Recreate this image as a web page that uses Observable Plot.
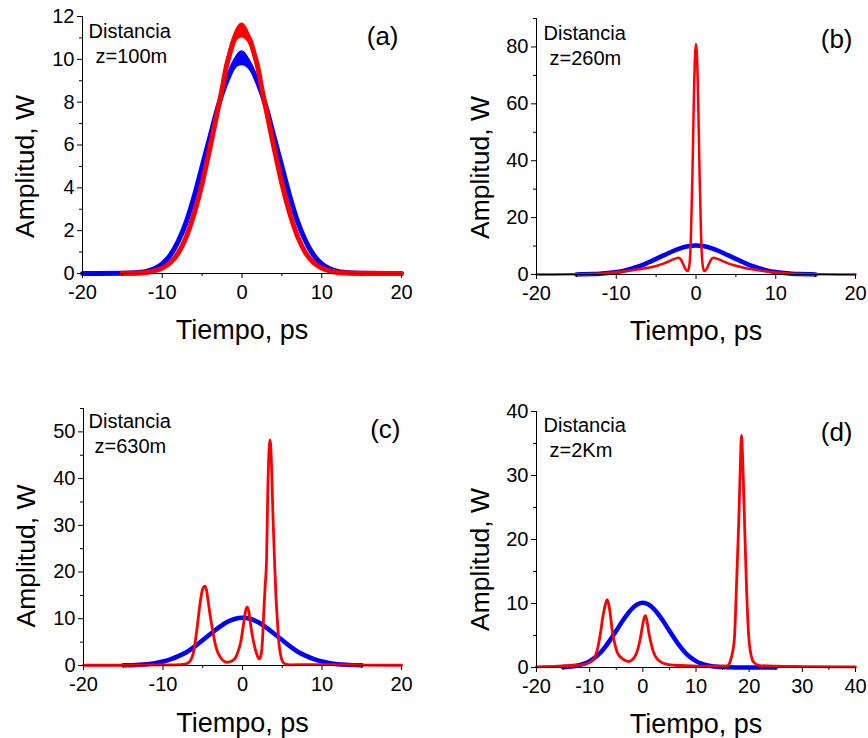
<!DOCTYPE html>
<html><head><meta charset="utf-8">
<script src="https://cdn.jsdelivr.net/npm/d3@7"></script>
<script src="https://cdn.jsdelivr.net/npm/@observablehq/plot@0.6"></script>
<style>
body{margin:0;background:#fff;}
#wrap{position:relative;width:868px;height:738px;overflow:hidden;background:#fff;font-family:"Liberation Sans",Arial,sans-serif;}
#wrap svg{position:absolute;}
</style></head><body><div id="wrap"></div>
<script>
// ---------- Panel (a): z = 100 m ----------
const tA_blue = [-20,-15,-13,-12,-11,-10,-9,-8,-7,-6,-5,-4,-3,-2,-1,0,1,2,3,4,5,6,7,8,9,10,11,12,13,15,20];
const vA_blue = [0,0.01,0.05,0.1,0.22,0.45,0.85,1.5,2.4,3.6,5.0,6.4,7.8,8.9,9.7,10.0,9.7,8.9,7.8,6.4,5.0,3.6,2.4,1.5,0.85,0.45,0.22,0.1,0.05,0.01,0];
const tA_red = [-15,-14,-12,-11,-10,-9,-8,-7,-6,-5,-4,-3,-2.5,-2,-1.5,-1,-0.5,0,0.5,1,1.5,2,2.5,3,4,5,6,7,8,9,10,11,12,14,20];
const vA_red = [0.01,0.01,0.05,0.12,0.25,0.5,0.95,1.7,2.8,4.2,5.9,7.7,8.6,9.6,10.3,10.9,11.2,11.35,11.2,10.9,10.3,9.6,8.6,7.7,5.9,4.2,2.8,1.7,0.95,0.5,0.25,0.12,0.05,0.01,0];
const tA_band = [-3,-2,-1,0,1,2,3];
const vA_blueLo = [7.6,8.65,9.45,9.7,9.45,8.65,7.6];
const vA_blueHi = [8.0,9.15,10.0,10.4,10.0,9.15,8.0];
const vA_redLo = [7.5,9.3,10.6,11.0,10.6,9.3,7.5];
const vA_redHi = [7.9,9.9,11.2,11.7,11.2,9.9,7.9];

// ---------- Panel (b): z = 260 m ----------
const tB_blue = [-15,-14,-13,-12,-11,-10,-9,-8,-7,-6,-5,-4,-3,-2,-1,0,1,2,3,4,5,6,7,8,9,10,11,12,13,14,15];
const vB_blue = [0.04,0.08,0.15,0.28,0.5,0.85,1.35,2.1,3.0,4.2,5.5,6.8,8.1,9.2,9.95,10.2,9.95,9.2,8.1,6.8,5.5,4.2,3.0,2.1,1.35,0.85,0.5,0.28,0.15,0.08,0.04];
const tB_red = [-20,-16,-14,-12,-10,-8,-6,-5,-4,-3.2,-2.6,-2.2,-1.9,-1.6,-1.3,-1.05,-0.85,-0.65,-0.45,-0.28,-0.12,0,0.12,0.28,0.45,0.65,0.85,1.05,1.3,1.6,1.9,2.2,2.6,3.2,4,5,6,8,10,12,14,16,20];
const vB_red = [0,0.05,0.1,0.3,0.8,1.5,2.4,3.0,3.9,4.9,5.6,5.9,5.3,3.6,1.8,1.2,3,12,35,60,77,81,77,60,35,12,3,1.2,1.8,3.6,5.3,5.9,5.6,4.9,3.9,3.1,2.4,1.4,0.7,0.3,0.1,0.05,0];

// ---------- Panel (c): z = 630 m ----------
const tC_blue = [-15,-14,-13,-12,-11,-10,-9,-8,-7,-6,-5,-4,-3,-2,-1,0,1,2,3,4,5,6,7,8,9,10,11,12,13,14,15];
const vC_blue = [0.04,0.08,0.15,0.28,0.5,0.85,1.35,2.05,2.9,4.1,5.45,6.8,8.1,9.25,9.95,10.2,9.95,9.25,8.1,6.8,5.45,4.1,2.9,2.05,1.35,0.85,0.5,0.28,0.15,0.08,0.04];
const tC_red = [-20,-15,-12,-9,-7.5,-6.9,-6.5,-6.3,-6.0,-5.7,-5.4,-5.1,-4.9,-4.74,-4.55,-4.3,-4.05,-3.8,-3.5,-3.2,-2.8,-2.4,-2.0,-1.6,-1.2,-0.9,-0.6,-0.25,0.1,0.4,0.6,0.8,1.0,1.2,1.5,1.8,2.1,2.3,2.5,2.68,2.85,3.02,3.2,3.35,3.45,3.55,3.7,3.85,4.03,4.2,4.36,4.6,4.8,5.0,5.4,6,8,10,12,15,20];
const vC_red = [0.05,0.05,0.1,0.15,0.25,0.5,1.2,2,4.5,8.2,12.5,15.8,16.8,17.0,16.3,13.5,10.5,8.0,5.2,3.2,1.8,1.0,0.7,0.8,1.1,1.6,2.8,4.8,8.5,11.8,12.5,11.5,9.0,6.8,4.2,2.4,1.4,2.0,5,11.5,17,22.4,39,46.5,48.3,47,40,31,22.4,15,10.3,4.5,2.2,1.0,0.3,0.15,0.2,0.2,0.15,0.1,0.05];

// ---------- Panel (d): z = 2 Km ----------
const tD_blue = [-15,-14,-13,-12,-11,-10,-9,-8,-7,-6,-5,-4,-3,-2,-1,0,1,2,3,4,5,6,7,8,9,10,11,12,13,14,15,16,18,20,25];
const vD_blue = [0.06,0.11,0.2,0.36,0.61,0.99,1.55,2.31,3.3,4.47,5.73,7.05,8.24,9.22,9.87,10.1,9.87,9.22,8.24,7.05,5.73,4.47,3.3,2.31,1.55,0.99,0.61,0.36,0.2,0.11,0.06,0.03,0.01,0,0];
const tD_red = [-20,-16,-13,-11,-10,-9.2,-8.5,-8,-7.5,-7,-6.7,-6.4,-6.0,-5.77,-5.3,-4.83,-4.0,-3.3,-2.64,-2.0,-1.38,-0.9,-0.44,0,0.3,0.5,0.8,1.1,1.44,2.0,2.7,3.5,4.58,6,8,12,15,16,16.49,16.9,17.24,17.6,18.05,18.35,18.56,18.8,19.12,19.5,19.93,20.4,20.87,22,25,30,40];
const vD_red = [0.1,0.2,0.35,0.5,0.8,1.35,3,5.2,8,10,10.6,9.8,7.5,5.8,3.8,2.4,1.5,1.1,0.94,1.2,1.9,3.0,4.7,6.8,7.9,8.1,7.2,5.6,4.2,2.4,1.35,0.8,0.47,0.35,0.3,0.2,0.2,0.3,1.1,2.5,4.7,12.5,23,32,36.25,32,23,12.5,4.7,1.8,0.8,0.3,0.2,0.15,0.1];

// ---------- axes ticks and labels ----------
const xTicks20 = [-20,-10,0,10,20];
const xMinor20 = [-15,-5,5,15];
const xTicks40 = [-20,-10,0,10,20,30,40];
const xMinor40 = [-15,-5,5,15,25,35];
const yTicksA = [0,2,4,6,8,10,12];
const yMinorA = [1,3,5,7,9,11];
const yTicksB = [0,20,40,60,80];
const yMinorB = [10,30,50,70,90];
const yTicksC = [0,10,20,30,40,50];
const yMinorC = [5,15,25,35,45,55];
const yTicksD = [0,10,20,30,40];
const yMinorD = [5,15,25,35];
const xLabel = "Tiempo, ps";
const yLabel = "Amplitud, W";
const distLabel = "Distancia";
const zLabels = ["z=100m","z=260m","z=630m","z=2Km"];
const panelLabels = ["(a)","(b)","(c)","(d)"];

const BLUE = "#0000ff", RED = "#ff0000";
const FONT = '"Liberation Sans", Arial, sans-serif';

function rows(t, v) { return t.map((d, i) => ({t: d, v: v[i]})); }
function bandRows(t, lo, hi) { return t.map((d, i) => ({t: d, lo: lo[i], hi: hi[i]})); }
const fmt = d => String(d);

function panel(p) {
  const marks = [];
  for (const s of p.series) {
    if (s.band) marks.push(Plot.areaY(s.band, {x: "t", y1: "lo", y2: "hi", fill: s.color, curve: "monotone-x"}));
    marks.push(Plot.line(s.data, {x: "t", y: "v", stroke: s.color, strokeWidth: s.w, curve: "monotone-x"}));
  }
  marks.push(
    Plot.ruleX([p.xDomain[0]], {stroke: "#000", strokeWidth: 1}),
    Plot.ruleY([p.yDomain[0]], {stroke: "#000", strokeWidth: 1}),
    Plot.axisX(p.xMajor, {anchor: "bottom", tickSize: 5, tickPadding: 6, fontSize: 20, tickFormat: fmt, label: null}),
    Plot.axisX(p.xMinor, {anchor: "bottom", tickSize: 3, tickFormat: () => "", label: null}),
    Plot.axisY(p.yMajor, {anchor: "left", tickSize: 5, tickPadding: 3, fontSize: 20, tickFormat: fmt, label: null}),
    Plot.axisY(p.yMinor, {anchor: "left", tickSize: 3, tickFormat: () => "", label: null}),
    Plot.text([distLabel], {frameAnchor: "top-left", textAnchor: "start", lineAnchor: "bottom", dx: p.distPos[0], dy: p.distPos[1], fontSize: 20}),
    Plot.text([p.z], {frameAnchor: "top-left", textAnchor: "start", lineAnchor: "bottom", dx: p.zPos[0], dy: p.zPos[1], fontSize: 20}),
    Plot.text([p.tag], {frameAnchor: "top-right", textAnchor: "end", lineAnchor: "bottom", dx: p.tagPos[0], dy: p.tagPos[1], fontSize: 26}),
    Plot.text([xLabel], {frameAnchor: "bottom", textAnchor: "middle", lineAnchor: "bottom", dy: p.xlabDy, fontSize: 27}),
    Plot.text([yLabel], {frameAnchor: "left", textAnchor: "middle", lineAnchor: "bottom", rotate: -90, dx: p.ylabPos[0], dy: p.ylabPos[1], fontSize: 26.5})
  );
  const svg = Plot.plot({
    width: 434, height: 369,
    marginLeft: p.m[0], marginRight: p.m[1], marginTop: p.m[2], marginBottom: p.m[3],
    x: {domain: p.xDomain},
    y: {domain: p.yDomain},
    style: {fontFamily: FONT, color: "#000", background: "transparent", fontSize: "20px", overflow: "visible"},
    marks
  });
  svg.style.left = p.pos[0] + "px";
  svg.style.top = p.pos[1] + "px";
  document.getElementById("wrap").appendChild(svg);
}

panel({
  pos: [0, 0], m: [82, 33, 16, 96],
  xDomain: [-20, 20], yDomain: [0, 12],
  xMajor: xTicks20, xMinor: xMinor20, yMajor: yTicksA, yMinor: yMinorA,
  series: [
    {data: rows(tA_blue, vA_blue), band: bandRows(tA_band, vA_blueLo, vA_blueHi), color: BLUE, w: 5},
    {data: rows(tA_red, vA_red), band: bandRows(tA_band, vA_redLo, vA_redHi), color: RED, w: 5}
  ],
  z: zLabels[0], tag: panelLabels[0],
  distPos: [6, 21], zPos: [13, 46], tagPos: [-3, 28],
  xlabDy: 65, ylabPos: [-49, 21.5]
});
panel({
  pos: [434, 0], m: [102, 13, 18, 95],
  xDomain: [-20, 20], yDomain: [0, 90],
  xMajor: xTicks20, xMinor: xMinor20, yMajor: yTicksB, yMinor: yMinorB,
  series: [
    {data: rows(tB_blue, vB_blue), color: BLUE, w: 4.5},
    {data: rows(tB_red, vB_red), color: RED, w: 2.5}
  ],
  z: zLabels[1], tag: panelLabels[1],
  distPos: [7, 21], zPos: [13, 46], tagPos: [-3, 29],
  xlabDy: 65, ylabPos: [-48, 21]
});
panel({
  pos: [0, 369], m: [83, 33, 39, 73],
  xDomain: [-20, 20], yDomain: [0, 55],
  xMajor: xTicks20, xMinor: xMinor20, yMajor: yTicksC, yMinor: yMinorC,
  series: [
    {data: rows(tC_blue, vC_blue), color: BLUE, w: 4.5},
    {data: rows(tC_red, vC_red), color: RED, w: 2.8}
  ],
  z: zLabels[2], tag: panelLabels[2],
  distPos: [5, 19], zPos: [11, 44], tagPos: [-1, 29],
  xlabDy: 66.5, ylabPos: [-49, 19]
});
panel({
  pos: [434, 369], m: [102, 13, 42, 71],
  xDomain: [-20, 40], yDomain: [0, 40],
  xMajor: xTicks40, xMinor: xMinor40, yMajor: yTicksD, yMinor: yMinorD,
  series: [
    {data: rows(tD_blue, vD_blue), color: BLUE, w: 4.5},
    {data: rows(tD_red, vD_red), color: RED, w: 2.8}
  ],
  z: zLabels[3], tag: panelLabels[3],
  distPos: [7, 20], zPos: [13, 45], tagPos: [-3, 29],
  xlabDy: 65, ylabPos: [-48, 20]
});
</script></body></html>
